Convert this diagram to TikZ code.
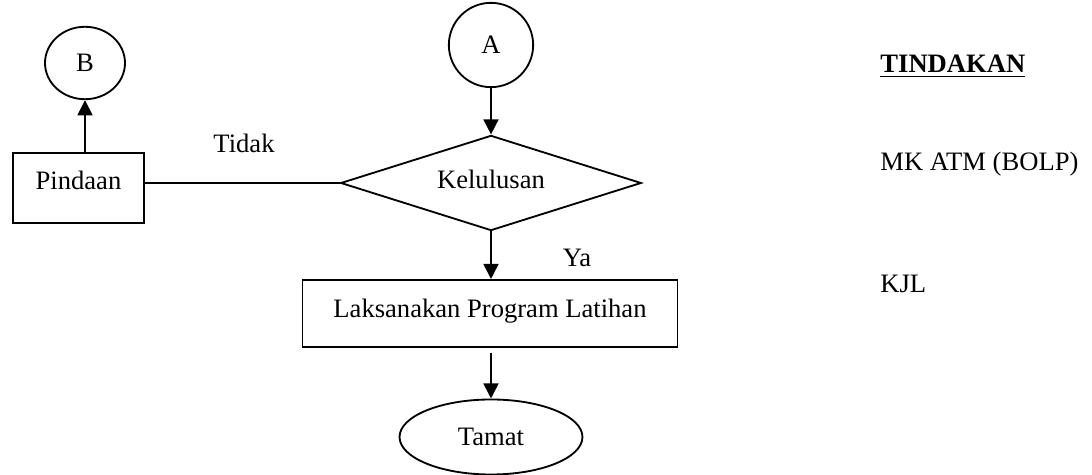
\documentclass[tikz,border=0pt]{standalone}
\usepackage{fontspec}
\setmainfont{Liberation Serif}
\usetikzlibrary{shapes.geometric,arrows.meta}
\tikzset{
  process/.style={draw, rectangle, line width=0.85pt, inner sep=0pt},
  decision/.style={draw, diamond, aspect=3.2, line width=0.85pt, inner sep=0pt},
  connector/.style={draw, ellipse, line width=0.85pt, inner sep=0pt},
  terminal/.style={draw, ellipse, line width=0.85pt, inner sep=0pt},
  flow/.style={line width=1.25pt, -{Triangle[length=7pt,width=6.8pt]}},
  link/.style={line width=0.85pt},
  lab/.style={anchor=base, inner sep=0pt},
  side/.style={anchor=base west, inner sep=0pt}
}
\begin{document}
\begin{tikzpicture}[x=0.4625pt,y=-0.4625pt,font=\fontsize{12.3}{14}\selectfont]
  \useasboundingbox (0,0) rectangle (1092,475);

  % connectors and flow
  \node[connector, minimum width=37pt, minimum height=33.5pt] (B) at (85,63) {B};
  \node[connector, minimum width=39pt, minimum height=39pt] (A) at (491,45) {A};
  \node[process, minimum width=60.6pt, minimum height=32.4pt,
        text height=8pt, text depth=7pt] (pin) at (78.5,188) {Pindaan};
  \node[decision, minimum width=139pt, minimum height=44pt,
        text height=8pt, text depth=3.2pt] (kel) at (491,183) {Kelulusan};
  \node[process, minimum width=173.4pt, minimum height=31pt,
        text height=8pt, text depth=4.6pt] (prog) at (490,313.5) {Laksanakan Program Latihan};
  \node[terminal, minimum width=84.6pt, minimum height=34.7pt] (end) at (491,437) {Tamat};

  \draw[flow] (B.south |- pin.north) -- (B.south);
  \draw[flow] (A) -- (kel);
  \draw[flow] (kel.south) -- (kel.south |- prog.north);
  \draw[flow, shorten <=2.3pt] (prog.south -| end.north) -- (end.north);
  \draw[link] (kel.west) -- (kel.west -| pin.east);

  \node[lab] (tidak) at (244,153) {Tidak};
  \node[lab] (ya) at (577,267) {Ya};

  % right column
  \node[side] (tind) at (880,73) {\textbf{\underline{TINDAKAN}}};
  \node[side] (mk) at (880,171) {MK ATM (BOLP)};
  \node[side] (kjl) at (880,293) {KJL};
\end{tikzpicture}
\end{document}
